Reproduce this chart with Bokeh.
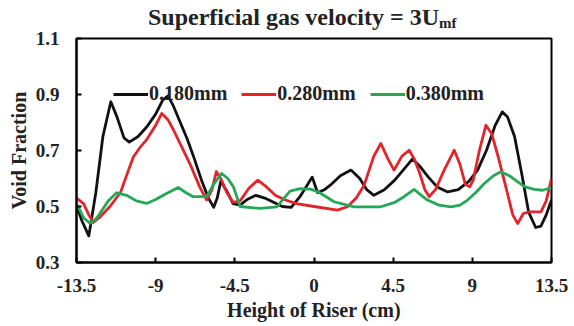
from bokeh.plotting import figure
from bokeh.models import Legend, LegendItem, FixedTicker, Range1d, Div
from bokeh.layouts import column
from bokeh.embed import file_html
from bokeh.resources import INLINE

# Void fraction profiles along the riser height for three particle sizes
x_180 = [-13.5, -13.2, -12.8, -12.4, -12.0, -11.55, -11.2, -10.8, -10.5, -10.0, -9.5, -9.0,
         -8.6, -8.3, -8.0, -7.6, -7.2, -6.8, -6.4, -6.0, -5.7, -5.5, -5.3, -5.0, -4.6, -4.2,
         -3.8, -3.3, -2.8, -2.3, -1.8, -1.3, -0.8, -0.4, -0.1, 0.2, 0.6, 1.0, 1.5, 2.1, 2.6,
         3.0, 3.4, 4.0, 4.6, 5.2, 5.6, 6.0, 6.5, 7.0, 7.6, 8.2, 8.8, 9.3, 9.8, 10.3, 10.7,
         11.0, 11.4, 11.8, 12.2, 12.6, 12.9, 13.2, 13.5]
y_180 = [0.505, 0.45, 0.395, 0.55, 0.75, 0.874, 0.82, 0.745, 0.73, 0.75, 0.785, 0.83,
         0.88, 0.895, 0.86, 0.80, 0.74, 0.67, 0.595, 0.53, 0.497, 0.53, 0.59, 0.56, 0.51, 0.505,
         0.525, 0.54, 0.53, 0.515, 0.50, 0.497, 0.535, 0.575, 0.605, 0.55, 0.56, 0.58, 0.61, 0.63, 0.60,
         0.56, 0.54, 0.56, 0.595, 0.64, 0.67, 0.645, 0.605, 0.57, 0.552, 0.56, 0.59, 0.63, 0.70, 0.79, 0.838,
         0.82, 0.75, 0.62, 0.48, 0.425, 0.43, 0.47, 0.523]

x_280 = [-13.5, -13.1, -12.8, -12.55, -12.2, -11.6, -11.0, -10.6, -10.27, -9.9, -9.5, -9.0,
         -8.66, -8.3, -8.0, -7.5, -7.0, -6.5, -6.1, -5.8, -5.55, -5.3, -4.96, -4.6, -4.2, -3.7,
         -3.2, -2.7, -2.2, -1.7, -1.0, 0.0, 1.33, 1.9, 2.4, 2.85, 3.4, 3.8, 4.2, 4.55, 5.0,
         5.41, 5.7, 5.98, 6.3, 6.55, 6.9, 7.4, 7.97, 8.3, 8.6, 8.85, 9.05, 9.4, 9.77, 10.1,
         10.5, 11.0, 11.3, 11.58, 11.9, 12.24, 12.9, 13.2, 13.5]
y_280 = [0.53, 0.51, 0.47, 0.443, 0.46, 0.50, 0.55, 0.62, 0.677, 0.71, 0.74, 0.79,
         0.832, 0.81, 0.775, 0.71, 0.645, 0.57, 0.523, 0.56, 0.625, 0.60, 0.55, 0.515, 0.52, 0.565,
         0.594, 0.57, 0.54, 0.525, 0.51, 0.50, 0.487, 0.499, 0.53, 0.576, 0.68, 0.725, 0.67, 0.63, 0.68,
         0.701, 0.67, 0.624, 0.56, 0.535, 0.56, 0.63, 0.701, 0.65, 0.58, 0.57, 0.594, 0.70, 0.79, 0.76,
         0.67, 0.546, 0.47, 0.439, 0.475, 0.481, 0.481, 0.52, 0.60]

x_380 = [-13.5, -13.1, -12.74, -12.4, -12.17, -11.7, -11.22, -10.65, -10.1, -9.52, -9.0,
         -8.57, -7.72, -7.3, -6.86, -6.1, -5.7, -5.25, -4.9, -4.58, -4.2, -3.06, -2.11, -1.7,
         -1.36, -0.79, -0.2, 0.3, 1.14, 2.28, 3.8, 4.6, 5.12, 5.69, 6.1, 6.45, 7.1, 7.78,
         8.3, 8.73, 9.2, 9.68, 10.2, 10.63, 11.1, 11.58, 12.0, 12.52, 13.0, 13.5]
y_380 = [0.511, 0.46, 0.44, 0.455, 0.475, 0.52, 0.549, 0.54, 0.52, 0.511, 0.525,
         0.54, 0.568, 0.55, 0.535, 0.535, 0.58, 0.618, 0.60, 0.570, 0.50, 0.493, 0.499, 0.53,
         0.555, 0.564, 0.562, 0.55, 0.517, 0.499, 0.499, 0.515, 0.535, 0.561, 0.54, 0.523, 0.505, 0.499,
         0.505, 0.523, 0.55, 0.582, 0.61, 0.624, 0.61, 0.588, 0.57, 0.561, 0.558, 0.568]

series_labels = ["0.180mm", "0.280mm", "0.380mm"]
series_colors = ["#111111", "#e3242b", "#22a857"]

x_ticks = [-13.5, -9, -4.5, 0, 4.5, 9, 13.5]
y_ticks = [0.3, 0.5, 0.7, 0.9, 1.1]

FONT = "Liberation Serif"
INK = "#222222"

# Heading with a subscripted "mf"
heading = Div(
    text=('<div style="margin-left:148px; margin-top:4px; line-height:24px; white-space:nowrap;">'
          'Superficial gas velocity = 3U'
          '<span style="font-size:15px; position:relative; top:3px;">mf</span></div>'),
    width=574, height=27, margin=(0, 0, 0, 0),
    styles={"font-family": FONT, "font-weight": "bold", "font-size": "24px",
            "color": INK, "overflow": "visible"},
)

p = figure(width=574, height=299, output_backend="svg", toolbar_location=None,
           x_range=Range1d(-13.5, 13.5), y_range=Range1d(0.3, 1.1),
           min_border_left=76, min_border_right=23, min_border_top=11, min_border_bottom=64)
p.title.visible = False
p.grid.visible = False
p.background_fill_color = "white"
p.border_fill_alpha = 0
p.outline_line_color = "black"
p.outline_line_width = 2

for ax in (p.xaxis[0], p.yaxis[0]):
    ax.axis_line_width = 2
    ax.major_tick_line_width = 2
    ax.major_tick_in = 5
    ax.major_tick_out = 0
    ax.minor_tick_line_color = None
    ax.major_label_text_font = FONT
    ax.major_label_text_font_style = "bold"
    ax.major_label_text_font_size = "19px"
    ax.major_label_text_color = INK
    ax.axis_label_text_font = FONT
    ax.axis_label_text_font_style = "bold"
    ax.axis_label_text_font_size = "20px"
    ax.axis_label_text_color = INK

p.xaxis.ticker = FixedTicker(ticks=x_ticks)
p.yaxis.ticker = FixedTicker(ticks=y_ticks)
p.xaxis.major_label_overrides = {t: ("%g" % t) for t in x_ticks}
p.xaxis.axis_label = "Height of Riser (cm)"
p.yaxis.axis_label = "Void Fraction"
p.xaxis.major_label_standoff = 16
p.yaxis.major_label_standoff = 17
p.xaxis.axis_label_standoff = 4
p.yaxis.axis_label_standoff = 3

items = []
for xs, ys, lab, col in zip([x_180, x_280, x_380], [y_180, y_280, y_380],
                            series_labels, series_colors):
    r = p.line(xs, ys, line_color=col, line_width=2.8, line_join="round")
    items.append(LegendItem(label=lab, renderers=[r]))

legend = Legend(items=items, orientation="horizontal", location=(37, 157),
                background_fill_alpha=0, border_line_color=None,
                padding=0, margin=0, spacing=14, label_standoff=1,
                glyph_width=35, glyph_height=20, label_height=20,
                label_text_font=FONT, label_text_font_style="bold",
                label_text_font_size="20px", label_text_color=INK)
p.add_layout(legend, "center")

page = column(heading, p, spacing=0)

open("out.html", "w").write(file_html(page, INLINE))
